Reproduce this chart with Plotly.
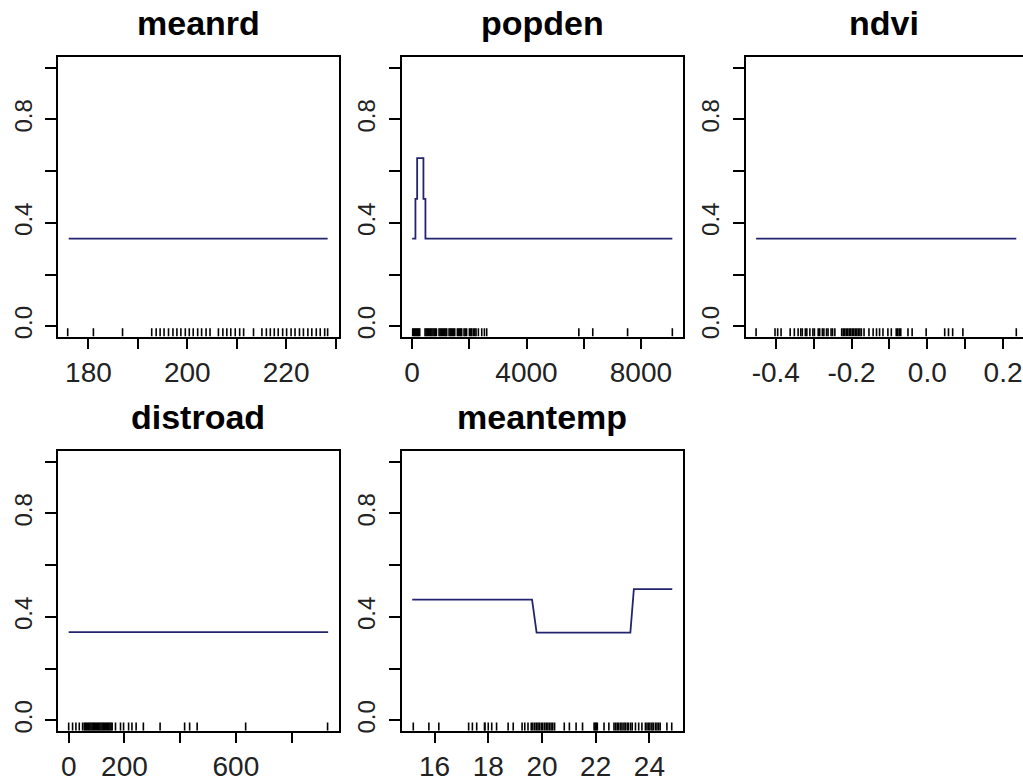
import plotly.graph_objects as go

# ---------------- data ----------------
y_tickvals = [0.0, 0.2, 0.4, 0.6, 0.8, 1.0]
y_ticktext = ["0.0", "", "0.4", "", "0.8", ""]

panel_names = ["meanrd", "popden", "ndvi", "distroad", "meantemp"]

meanrd_x = [176.0, 228.4]
meanrd_y = [0.339, 0.339]
meanrd_rug = [175.8, 181.0, 186.9, 192.8, 193.7, 194.5, 195.3, 196.2, 197.1, 197.9,
              198.7, 199.6, 200.4, 201.2, 202.1, 202.9, 203.8, 204.6, 206.3, 207.2,
              208.0, 208.8, 209.7, 210.6, 211.4, 213.4, 215.1, 216.0, 216.8, 217.6,
              218.4, 219.3, 220.1, 221.0, 221.8, 222.7, 223.5, 224.4, 225.2, 226.1,
              226.9, 227.8, 228.4]
meanrd_tickvals = [180, 190, 200, 210, 220, 230]
meanrd_ticktext = ["180", "", "200", "", "220", ""]

popden_x = [0, 115, 175, 395, 465, 9100]
popden_y = [0.339, 0.493, 0.650, 0.493, 0.339, 0.339]
popden_rug = [20, 55, 90, 125, 160, 195, 230, 265,
              451, 490, 530, 570, 610, 650, 690, 730, 770, 810, 850,
              941, 980, 1020, 1060, 1100, 1140, 1180, 1209,
              1291, 1330, 1370, 1410, 1450, 1490,
              1582, 1620, 1660, 1700, 1734,
              1815, 1860, 1905, 2002, 2045, 2084, 2142, 2190, 2235,
              2317, 2434, 2527, 2608, 5830, 6317, 7535, 9100]
popden_tickvals = [0, 2000, 4000, 6000, 8000]
popden_ticktext = ["0", "", "4000", "", "8000"]

ndvi_x = [-0.452, 0.235]
ndvi_y = [0.339, 0.339]
ndvi_rug = [-0.452, -0.402, -0.395, -0.386, -0.362, -0.351, -0.341, -0.334, -0.330,
            -0.322, -0.318, -0.310, -0.302, -0.298, -0.288, -0.284, -0.277, -0.273,
            -0.266, -0.262, -0.254, -0.250, -0.244, -0.226, -0.222, -0.218, -0.214,
            -0.210, -0.206, -0.202, -0.198, -0.194, -0.190, -0.186, -0.182, -0.178,
            -0.174, -0.167, -0.154, -0.143, -0.134, -0.126, -0.117, -0.104, -0.095,
            -0.082, -0.078, -0.074, -0.070, -0.051, -0.040, -0.003, 0.046, 0.056,
            0.067, 0.094, 0.235]
ndvi_tickvals = [-0.4, -0.3, -0.2, -0.1, 0.0, 0.1, 0.2]
ndvi_ticktext = ["-0.4", "", "-0.2", "", "0.0", "", "0.2"]

distroad_x = [0, 931]
distroad_y = [0.341, 0.341]
distroad_rug = [0, 14, 26, 38, 50, 56, 60, 64, 68, 72, 76, 80, 84, 88, 92, 96, 100,
                104, 108, 112, 116, 120, 124, 128, 132, 136, 140, 144, 148, 152, 156,
                168, 186, 197, 215, 227, 242, 268, 328, 416, 434, 461, 635, 929]
distroad_tickvals = [0, 200, 400, 600, 800]
distroad_ticktext = ["0", "200", "", "600", ""]

meantemp_x = [15.17, 19.63, 19.68, 19.80, 23.29, 23.33, 23.42, 24.85]
meantemp_y = [0.467, 0.467, 0.430, 0.339, 0.339, 0.400, 0.507, 0.507]
meantemp_rug = [15.21, 15.79, 16.16, 17.27, 17.41, 17.57, 17.86, 17.88, 18.00, 18.13,
                18.31, 18.74, 18.93, 19.26, 19.36, 19.48, 19.60, 19.66, 19.73, 19.79,
                19.85, 19.90, 19.97, 20.03, 20.10, 20.16, 20.22, 20.28, 20.34, 20.40,
                20.47, 20.83, 21.02, 21.27, 21.51, 21.94, 21.98, 22.02, 22.06, 22.31,
                22.49, 22.68, 22.74, 22.80, 22.86, 22.93, 22.98, 23.05, 23.10, 23.17,
                23.22, 23.30, 23.36, 23.48, 23.60, 23.72, 23.85, 23.91, 23.97, 24.02,
                24.09, 24.14, 24.22, 24.28, 24.34, 24.40, 24.65, 24.83]
meantemp_tickvals = [16, 18, 20, 22, 24]
meantemp_ticktext = ["16", "18", "20", "22", "24"]

panel_x = [meanrd_x, popden_x, ndvi_x, distroad_x, meantemp_x]
panel_y = [meanrd_y, popden_y, ndvi_y, distroad_y, meantemp_y]
panel_rug = [meanrd_rug, popden_rug, ndvi_rug, distroad_rug, meantemp_rug]
panel_tickvals = [meanrd_tickvals, popden_tickvals, ndvi_tickvals, distroad_tickvals, meantemp_tickvals]
panel_ticktext = [meanrd_ticktext, popden_ticktext, ndvi_ticktext, distroad_ticktext, meantemp_ticktext]

# ---------------- layout / style ----------------
x_ranges = [[173.9, 230.6], [-364, 9464], [-0.4795, 0.2527], [-37.2, 968.2], [14.78, 25.24]]
x_domains = [[0.0570, 0.3309], [0.3927, 0.6674], [0.7289, 1.0], [0.0570, 0.3309], [0.3927, 0.6674]]
y_domains = [[0.5652, 0.9258], [0.5652, 0.9258], [0.5652, 0.9258], [0.0559, 0.4169], [0.0559, 0.4169]]
y_mirror = [True, True, False, True, True]
line_shapes = ["linear", "hv", "linear", "linear", "linear"]
Y_RANGE = [-0.04, 1.04]
RUG_Y = -0.024
FONT = "Liberation Sans, Arial, sans-serif"
LINE_COLOR = "#24246e"

fig = go.Figure()
layout = dict(
    width=1023, height=782,
    margin=dict(l=0, r=0, t=0, b=0),
    paper_bgcolor="white", plot_bgcolor="white",
    showlegend=False,
    font=dict(family=FONT, color="#222222"),
    annotations=[],
)

for i in range(5):
    n = "" if i == 0 else str(i + 1)
    xa, ya = "x" + n, "y" + n
    fig.add_trace(go.Scatter(
        x=panel_x[i], y=panel_y[i], mode="lines", xaxis=xa, yaxis=ya,
        line=dict(color=LINE_COLOR, width=1.8, shape=line_shapes[i]),
        hoverinfo="skip"))
    fig.add_trace(go.Scatter(
        x=panel_rug[i], y=[RUG_Y] * len(panel_rug[i]), mode="markers",
        xaxis=xa, yaxis=ya,
        marker=dict(symbol="line-ns", size=6, color="black",
                    line=dict(width=1.6, color="black")),
        hoverinfo="skip"))
    layout["xaxis" + n] = dict(
        domain=x_domains[i], range=x_ranges[i], anchor=ya,
        tickmode="array", tickvals=panel_tickvals[i], ticktext=panel_ticktext[i],
        ticks="outside", ticklen=10, tickwidth=2, tickcolor="black",
        showline=True, linewidth=2, linecolor="black", mirror=True,
        showgrid=False, zeroline=False,
        tickfont=dict(size=28, family=FONT, color="#222222"),
    )
    layout["yaxis" + n] = dict(
        domain=y_domains[i], range=Y_RANGE, anchor=xa,
        tickmode="array", tickvals=y_tickvals, ticktext=y_ticktext,
        ticks="outside", ticklen=11, tickwidth=2, tickcolor="black",
        showline=True, linewidth=2, linecolor="black", mirror=y_mirror[i],
        showgrid=False, zeroline=False, tickangle=-90,
        ticklabelstandoff=4,
        tickfont=dict(size=24, family=FONT, color="#222222"),
    )
    layout["annotations"].append(dict(
        text="<b>" + panel_names[i] + "</b>",
        xref=xa + " domain", yref=ya + " domain", x=0.5, y=1.0,
        xanchor="center", yanchor="bottom", yshift=13, showarrow=False,
        font=dict(size=34, family=FONT, color="black"),
    ))

fig.update_layout(**layout)
fig.write_html("out.html")
